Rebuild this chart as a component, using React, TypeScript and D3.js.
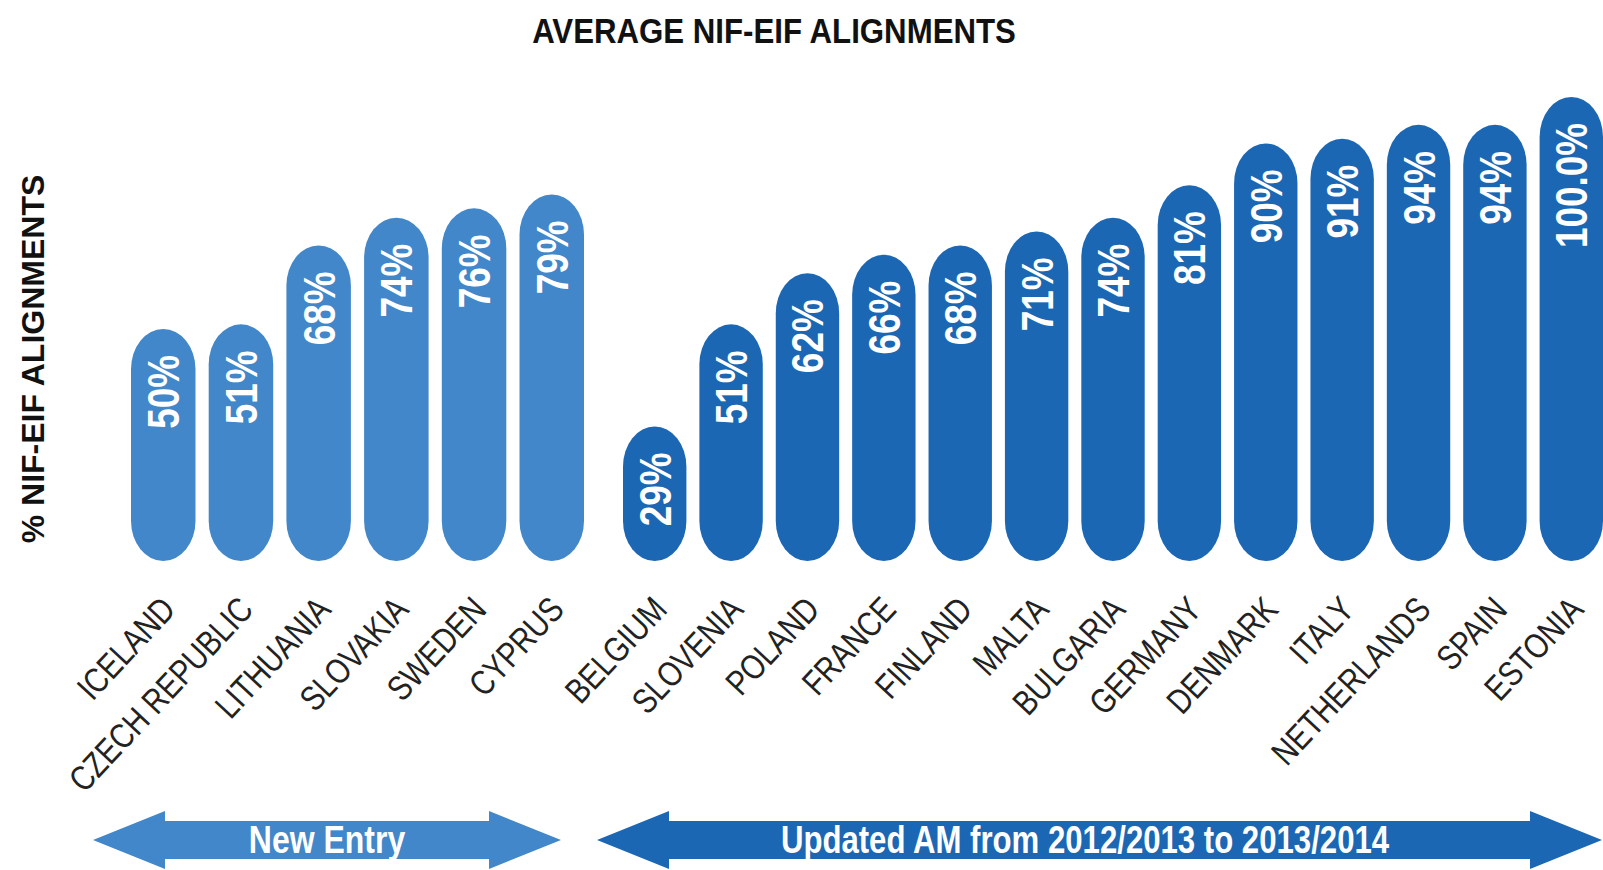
import React from 'react'
import { scaleBand, scaleLinear, path as d3path } from 'd3'

// chart data
const newEntryCountries = ['ICELAND', 'CZECH REPUBLIC', 'LITHUANIA', 'SLOVAKIA', 'SWEDEN', 'CYPRUS']
const newEntryValues = [50, 51, 68, 74, 76, 79]
const newEntryLabels = ['50%', '51%', '68%', '74%', '76%', '79%']

const updatedCountries = ['BELGIUM', 'SLOVENIA', 'POLAND', 'FRANCE', 'FINLAND', 'MALTA', 'BULGARIA', 'GERMANY', 'DENMARK', 'ITALY', 'NETHERLANDS', 'SPAIN', 'ESTONIA']
const updatedValues = [29, 51, 62, 66, 68, 71, 74, 81, 90, 91, 94, 94, 100]
const updatedLabels = ['29%', '51%', '62%', '66%', '68%', '71%', '74%', '81%', '90%', '91%', '94%', '94%', '100.0%']

const groupNames = ['New Entry', 'Updated AM from 2012/2013 to 2013/2014']

const W = 1603
const H = 870
const BASE = 561
const LIGHT = '#4287c9'
const DARK = '#1c67b4'
const FONT = '"Liberation Sans", Arial, sans-serif'
// no narrow font installed, so squeeze glyphs horizontally
const NARROW = 0.82

const y = scaleLinear().domain([0, 100]).range([BASE, 97])

const x1 = scaleBand<string>().domain(newEntryCountries).range([131, 584]).paddingInner(0.17).paddingOuter(0)
const x2 = scaleBand<string>().domain(updatedCountries).range([623, 1603]).paddingInner(0.17).paddingOuter(0)

// double headed arrow
function arrowPath(x0: number, x1: number, cy: number) {
  const p = d3path()
  const head = 72, shaft = 19, hh = 29
  p.moveTo(x0, cy)
  p.lineTo(x0 + head, cy - hh)
  p.lineTo(x0 + head, cy - shaft)
  p.lineTo(x1 - head, cy - shaft)
  p.lineTo(x1 - head, cy - hh)
  p.lineTo(x1, cy)
  p.lineTo(x1 - head, cy + hh)
  p.lineTo(x1 - head, cy + shaft)
  p.lineTo(x0 + head, cy + shaft)
  p.lineTo(x0 + head, cy + hh)
  p.closePath()
  return p.toString()
}

function Group({ countries, values, labels, scale, color }: any) {
  const bw = scale.bandwidth()
  return (
    <g>
      {countries.map((c: string, i: number) => {
        const x = scale(c)
        const top = y(values[i])
        const cx = x + bw / 2
        return (
          <g key={c}>
            <rect x={x} y={top} width={bw} height={BASE - top} rx={bw / 2} ry={40} fill={color} />
            <text
              transform={`translate(${cx + 16},${top + 26}) rotate(-90) scale(${NARROW},1)`}
              textAnchor="end"
              fontFamily={FONT}
              fontWeight="bold"
              fontSize={45}
              fill="#fff"
            >
              {labels[i]}
            </text>
            <text
              transform={`translate(${cx + 14},${611}) rotate(-47) scale(${NARROW},1)`}
              textAnchor="end"
              fontFamily={FONT}
              fontSize={35}
              fill="#222"
            >
              {c}
            </text>
          </g>
        )
      })}
    </g>
  )
}

export default function App() {
  return (
    <svg width={W} height={H} style={{ position: 'absolute', left: 0, top: 0, background: '#fff' }}>
      <text transform={`translate(774,43) scale(0.867,1)`} textAnchor="middle" fontFamily={FONT} fontWeight="bold" fontSize={36} fill="#111">
        AVERAGE NIF-EIF ALIGNMENTS
      </text>
      <text transform={`translate(44,359) rotate(-90)`} textAnchor="middle" fontFamily={FONT} fontWeight="bold" fontSize={32} fill="#111">
        % NIF-EIF ALIGNMENTS
      </text>

      <Group countries={newEntryCountries} values={newEntryValues} labels={newEntryLabels} scale={x1} color={LIGHT} />
      <Group countries={updatedCountries} values={updatedValues} labels={updatedLabels} scale={x2} color={DARK} />

      <path d={arrowPath(93, 561, 840)} fill={LIGHT} />
      <text transform={`translate(327,853) scale(${NARROW},1)`} textAnchor="middle" fontFamily={FONT} fontWeight="bold" fontSize={39} fill="#fff">
        {groupNames[0]}
      </text>
      <path d={arrowPath(597, 1602, 840)} fill={DARK} />
      <text transform={`translate(1085,853) scale(${NARROW},1)`} textAnchor="middle" fontFamily={FONT} fontWeight="bold" fontSize={38} fill="#fff">
        {groupNames[1]}
      </text>
    </svg>
  )
}
